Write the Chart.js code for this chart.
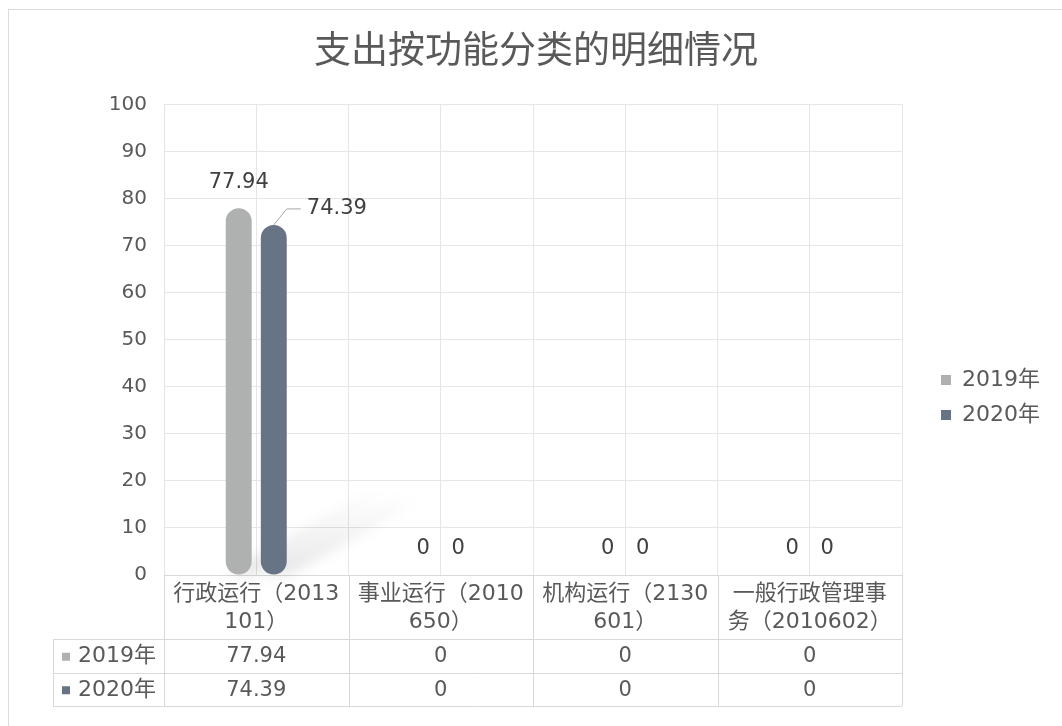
<!DOCTYPE html>
<html>
<head>
<meta charset="utf-8">
<script src="https://cdn.jsdelivr.net/npm/chart.js@4"></script>
<style>
  html, body { margin: 0; padding: 0; background: #fff; overflow: hidden; }
  #wrap { position: relative; width: 1062px; height: 726px; }
  #frame {
    position: absolute; left: 8px; top: 9px; width: 1100px; height: 800px;
    border: 1px solid #dcdcdc; box-sizing: border-box; pointer-events: none;
  }
  canvas { position: absolute; left: 0; top: 0; }
</style>
</head>
<body>
<div id="wrap">
  <div id="frame"></div>
  <canvas id="chart" width="1062" height="726"></canvas>
</div>
<script>
const TITLE = "支出按功能分类的明细情况";
const categories = [
  ["行政运行（2013", "101）"],
  ["事业运行（2010", "650）"],
  ["机构运行（2130", "601）"],
  ["一般行政管理事", "务（2010602）"]
];
const seriesNames = ["2019年", "2020年"];
const values2019 = [77.94, 0, 0, 0];
const values2020 = [74.39, 0, 0, 0];
const seriesColors = ["#afb0b0", "#667485"];
const Y_MIN = 0, Y_MAX = 100, Y_STEP = 10;

const TEXT = "#595959";
const LABEL = "#404040";
const GRID = "#e6e6e6";
const LINE = "#d9d9d9";
const FONT = "'DejaVu Sans', 'Noto Sans CJK SC', sans-serif";

const TABLE_LEFT = 53;
const ROW_H = 33.5;

// soft diagonal shadow behind the bars
const shadowPlugin = {
  id: "barShadow",
  beforeDatasetsDraw(chart) {
    const ctx = chart.ctx;
    chart.data.datasets.forEach((ds, di) => {
      chart.getDatasetMeta(di).data.forEach((bar) => {
        const h = bar.base - bar.y;
        if (h < 1) return;
        const w = bar.width;
        const dx = h * 0.38, dy = h * 0.21;
        ctx.save();
        ctx.filter = "blur(7px)";
        const g = ctx.createLinearGradient(bar.x, bar.base, bar.x + dx, bar.base - dy);
        g.addColorStop(0, "rgba(0,0,0,0.13)");
        g.addColorStop(1, "rgba(0,0,0,0.01)");
        ctx.fillStyle = g;
        ctx.beginPath();
        ctx.moveTo(bar.x - w / 2, bar.base);
        ctx.lineTo(bar.x + w / 2, bar.base);
        ctx.lineTo(bar.x + w / 2 + dx, bar.base - dy);
        ctx.lineTo(bar.x - w / 2 + dx, bar.base - dy);
        ctx.closePath();
        ctx.fill();
        ctx.restore();
      });
    });
  }
};

const valueLabels = {
  id: "valueLabels",
  afterDatasetsDraw(chart) {
    const ctx = chart.ctx;
    ctx.save();
    ctx.font = "21px " + FONT;
    ctx.fillStyle = LABEL;
    ctx.textBaseline = "middle";
    chart.data.datasets.forEach((ds, di) => {
      chart.getDatasetMeta(di).data.forEach((bar, i) => {
        const txt = String(ds.data[i]);
        if (di === 1 && ds.data[i] > 0) {
          // callout with leader line
          ctx.strokeStyle = "#a6a6a6";
          ctx.lineWidth = 1;
          ctx.beginPath();
          ctx.moveTo(bar.x, bar.y);
          ctx.lineTo(bar.x + 13, bar.y - 16);
          ctx.lineTo(bar.x + 27, bar.y - 16);
          ctx.stroke();
          ctx.textAlign = "left";
          ctx.fillText(txt, bar.x + 33, bar.y - 16);
        } else {
          ctx.textAlign = "center";
          ctx.fillText(txt, bar.x, bar.y - 26);
        }
      });
    });
    ctx.restore();
  }
};

const dataTable = {
  id: "dataTable",
  afterDraw(chart) {
    const ctx = chart.ctx;
    const x = chart.scales.x;
    const n = categories.length;
    const colW = (x.right - x.left) / n;
    const headTop = x.top;
    const rowTop = x.bottom;
    const bottom = rowTop + ROW_H * 2;
    ctx.save();
    ctx.strokeStyle = LINE;
    ctx.lineWidth = 1;
    ctx.beginPath();
    for (let r = 0; r <= 2; r++) {
      const y = Math.round(rowTop + r * ROW_H) + 0.5;
      ctx.moveTo(TABLE_LEFT, y);
      ctx.lineTo(x.right, y);
    }
    ctx.moveTo(TABLE_LEFT + 0.5, rowTop);
    ctx.lineTo(TABLE_LEFT + 0.5, bottom);
    for (let c = 0; c <= n; c++) {
      const xx = Math.round(x.left + c * colW) + 0.5;
      ctx.moveTo(xx, headTop);
      ctx.lineTo(xx, bottom);
    }
    ctx.stroke();

    const rows = [values2019, values2020];
    ctx.textBaseline = "middle";
    rows.forEach((vals, r) => {
      const cy = rowTop + r * ROW_H + ROW_H / 2 + 1;
      ctx.fillStyle = seriesColors[r];
      ctx.fillRect(TABLE_LEFT + 9, cy - 4, 8, 8);
      ctx.fillStyle = TEXT;
      ctx.font = "22px " + FONT;
      ctx.textAlign = "left";
      ctx.fillText(seriesNames[r], TABLE_LEFT + 25, cy);
      ctx.font = "21px " + FONT;
      ctx.textAlign = "center";
      vals.forEach((v, i) => {
        ctx.fillText(String(v), x.getPixelForValue(i), cy);
      });
    });
    ctx.restore();
  }
};

new Chart(document.getElementById("chart"), {
  type: "bar",
  data: {
    labels: categories,
    datasets: [
      {
        label: seriesNames[0],
        data: values2019,
        backgroundColor: seriesColors[0],
        borderRadius: 13,
        borderSkipped: false,
        categoryPercentage: 0.38,
        barPercentage: 0.74
      },
      {
        label: seriesNames[1],
        data: values2020,
        backgroundColor: seriesColors[1],
        borderRadius: 13,
        borderSkipped: false,
        categoryPercentage: 0.38,
        barPercentage: 0.74
      }
    ]
  },
  options: {
    responsive: false,
    animation: false,
    layout: { padding: { left: 22, right: 12, top: 0, bottom: 87 } },
    scales: {
      x: {
        grid: { color: GRID, offset: true, drawTicks: false },
        border: { display: true, color: LINE },
        ticks: {
          color: TEXT,
          padding: 6,
          maxRotation: 0,
          autoSkip: false,
          font: { family: FONT, size: 22, lineHeight: 1.25 }
        },
        afterFit(s) { s.height = 64; }
      },
      xc: {
        type: "category",
        position: "top",
        grid: { color: GRID, offset: false, drawTicks: false },
        border: { display: false },
        ticks: { display: false },
        afterFit(s) { s.height = 0; }
      },
      y: {
        min: Y_MIN,
        max: Y_MAX,
        ticks: {
          stepSize: Y_STEP,
          color: TEXT,
          padding: 17,
          font: { family: FONT, size: 20 }
        },
        grid: { color: GRID, drawTicks: false },
        border: { display: false },
        afterFit(s) { s.width = 142; }
      },
      yr: {
        position: "right",
        grid: { display: false },
        border: { display: false },
        ticks: { display: false },
        afterFit(s) { s.width = 26; }
      }
    },
    plugins: {
      title: {
        display: true,
        text: TITLE,
        color: TEXT,
        font: { family: "'Noto Sans CJK SC', sans-serif", size: 37, weight: "normal" },
        padding: { top: 27, bottom: 33 }
      },
      legend: {
        position: "right",
        title: { display: true, text: "", padding: 66, font: { size: 20 } },
        labels: {
          color: TEXT,
          boxWidth: 10,
          boxHeight: 10,
          padding: 13,
          font: { family: FONT, size: 22 }
        }
      },
      tooltip: { enabled: false }
    }
  },
  plugins: [shadowPlugin, valueLabels, dataTable]
});
</script>
</body>
</html>
